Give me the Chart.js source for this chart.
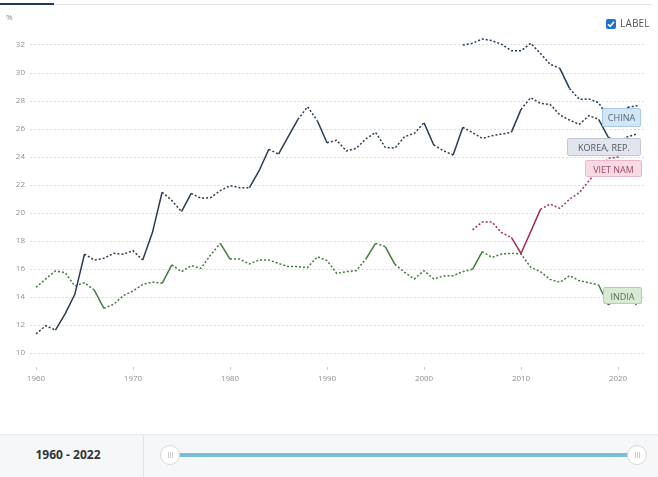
<!DOCTYPE html>
<html>
<head>
<meta charset="utf-8">
<script src="https://cdn.jsdelivr.net/npm/chart.js@4.4.1/dist/chart.umd.min.js"></script>
<style>
  html,body{margin:0;padding:0;background:#fff;}
  body{width:658px;height:477px;position:relative;overflow:hidden;font-family:'Open Sans',sans-serif;}
  #wrap{position:absolute;left:0;top:0;width:658px;height:430px;}
  .topdark{position:absolute;left:0;top:3px;width:54px;height:2px;background:#1d3b5a;}
  .topgray{position:absolute;left:54px;top:4px;width:598px;height:1px;background:#e3e3e3;}
  .unit{position:absolute;left:6px;top:11px;font-size:8px;color:#8a8a8a;}
  .chk{position:absolute;left:606px;top:19px;width:10px;height:10px;background:#1f6fd0;border-radius:2px;}
  .chk svg{position:absolute;left:0;top:0;}
  .lbl{position:absolute;left:620px;top:16px;font-size:10px;color:#555;letter-spacing:0.2px;}
  .tag{position:absolute;font-size:9px;line-height:17px;text-align:center;box-sizing:border-box;border-radius:2px;}
  .band{position:absolute;left:0;top:434px;width:658px;height:42px;background:#f6f7f9;border-top:1px solid #e6e8eb;border-bottom:1px solid #e6e8eb;}
  .sep{position:absolute;left:143px;top:434px;width:1px;height:43px;background:#e2e4e8;}
  .range{position:absolute;left:0;top:446px;width:136px;text-align:center;font-size:12px;font-weight:bold;color:#333;}
  .track{position:absolute;left:170px;top:453px;width:467px;height:4px;background:#7dbddb;}
  .handle{position:absolute;top:445px;width:18px;height:18px;border-radius:50%;background:#fff;border:1px solid #d8d8d8;}
  .handle i{position:absolute;top:6px;width:1px;height:6px;background:#ccc;}
</style>
</head>
<body>
<div class="topdark"></div><div class="topgray"></div>
<div id="wrap"><canvas id="c" width="658" height="430"></canvas></div>
<div class="unit">%</div>
<div class="chk"><svg width="10" height="10" viewBox="0 0 10 10"><path d="M2 5.2 L4.2 7.4 L8 2.8" stroke="#fff" stroke-width="1.6" fill="none"/></svg></div>
<div class="lbl">LABEL</div>
<div class="tag" style="left:602px;top:108px;width:39px;height:19px;background:#d4e6f4;border:1px solid #a9cbe6;color:#4c6781;">CHINA</div>
<div class="tag" style="left:567px;top:138px;width:74px;height:18px;background:#e2e4ee;border:1px solid #c3c7d8;color:#505565;">KOREA, REP.</div>
<div class="tag" style="left:585px;top:160px;width:57px;height:17px;background:#f8dae5;border:1px solid #ecb5c8;color:#9a4a68;">VIET NAM</div>
<div class="tag" style="left:603px;top:287px;width:39px;height:17px;background:#d8ead3;border:1px solid #b2d2a8;color:#55704c;">INDIA</div>
<div class="band"></div><div class="sep"></div>
<div class="range">1960 - 2022</div>
<div class="track"></div>
<div class="handle" style="left:160px;"><i style="left:7px"></i><i style="left:9px"></i><i style="left:11px"></i></div>
<div class="handle" style="left:627px;"><i style="left:7px"></i><i style="left:9px"></i><i style="left:11px"></i></div>
<script>
const years = [];
for (let y = 1960; y <= 2022; y++) years.push(y);

const korea = [11.36,11.95,11.64,12.79,14.19,17.07,16.64,16.76,17.12,17.05,
  17.31,16.64,18.6,21.48,20.9,20.1,21.4,21.05,21.1,21.6,
  21.95,21.81,21.81,23.02,24.55,24.21,25.45,26.69,27.59,26.59,
  25.02,25.19,24.43,24.62,25.29,25.76,24.69,24.64,25.45,25.69,
  26.45,24.86,24.45,24.14,26.12,25.74,25.33,25.52,25.64,25.76,
  27.40,28.24,27.83,27.76,27.0,26.64,26.33,26.95,26.69,25.4,
  25.1,25.45,25.65];

const india = [14.69,15.29,15.86,15.74,14.79,15.02,14.5,13.19,13.48,14.1,
  14.43,14.9,15.07,14.98,16.29,15.81,16.24,16.05,17.0,17.83,
  16.71,16.71,16.36,16.64,16.64,16.4,16.17,16.17,16.1,16.88,
  16.6,15.69,15.81,15.88,16.71,17.83,17.6,16.33,15.76,15.29,
  15.88,15.29,15.5,15.52,15.81,15.98,17.24,16.83,17.07,17.12,
  17.07,16.12,15.81,15.26,15.05,15.52,15.17,15.02,14.86,13.43,
  13.9,14.3,13.31];

const chinaStart = 2004;
const china = [32.0,32.12,32.43,32.31,32.05,31.59,31.59,32.12,31.40,30.62,
  30.33,28.90,28.12,28.14,27.88,26.8,26.3,27.55,27.66];

const vietStart = 2005;
const vietnam = [18.79,19.36,19.36,18.59,18.26,17.12,18.67,20.26,20.64,20.33,
  20.98,21.45,22.3,23.1,23.9,24.0,24.5,24.8];

const yTicks = [10,12,14,16,18,20,22,24,26,28,30,32];
const xTicks = [1960,1970,1980,1990,2000,2010,2020];

function pts(vals, start) {
  return vals.map((v, i) => ({x: start + i, y: v}));
}

const segDash = {
  borderDash: ctx => {
    const dx = Math.abs(ctx.p1.x - ctx.p0.x), dy = Math.abs(ctx.p1.y - ctx.p0.y);
    return dy > 1.6 * dx ? [] : [2, 2];
  }
};

function ds(label, data, color) {
  return {label, data, borderColor: color, backgroundColor: color, borderWidth: 1.5,
    pointRadius: 0, pointHoverRadius: 0, tension: 0, fill: false, segment: segDash};
}

new Chart(document.getElementById('c'), {
  type: 'line',
  data: {
    datasets: [
      ds('China', pts(china, chinaStart), '#203b5c'),
      ds('Korea, Rep.', pts(korea, years[0]), '#2a3c53'),
      ds('Viet Nam', pts(vietnam, vietStart), '#a32b5f'),
      ds('India', pts(india, years[0]), '#437a3d')
    ]
  },
  options: {
    responsive: false,
    animation: false,
    devicePixelRatio: 1,
    layout: {padding: {left: 0, right: 13, top: 31, bottom: 0}},
    plugins: {legend: {display: false}, tooltip: {enabled: false}},
    scales: {
      x: {
        type: 'linear', min: 1959.38, max: 2022.78,
        afterFit: s => { s.height = 63; },
        afterBuildTicks: s => { s.ticks = xTicks.map(v => ({value: v})); },
        grid: {drawOnChartArea: false, drawTicks: true, tickLength: 3, color: '#cfcfcf'},
        border: {display: false},
        ticks: {padding: 4, color: '#8f8f8f', font: {family: 'Open Sans', size: 8}, maxRotation: 0,
          callback: v => String(v)}
      },
      y: {
        min: 9, max: 33,
        afterFit: s => { s.width = 30; },
        afterBuildTicks: s => { s.ticks = yTicks.map(v => ({value: v})); },
        grid: {drawTicks: false, color: '#dcdcdc', lineWidth: 1},
        border: {display: false, dash: [2, 2]},
        ticks: {padding: 5, color: '#8f8f8f', font: {family: 'Open Sans', size: 8},
          callback: v => String(v)}
      }
    }
  }
});
</script>
</body>
</html>
